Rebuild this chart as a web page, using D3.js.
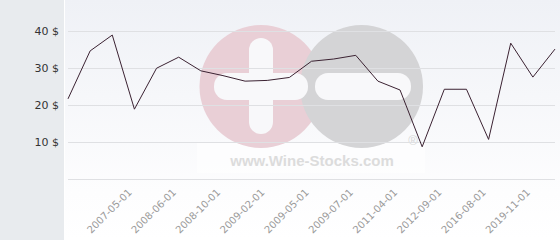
<!DOCTYPE html>
<html>
<head>
<meta charset="utf-8">
<script src="https://cdn.jsdelivr.net/npm/d3@7"></script>
<style>
   body { margin: 0; background: #fff; }
   svg { display: block; font-family: "DejaVu Sans", sans-serif; }
</style>
</head>
<body>
<svg id="chart" width="560" height="240"></svg>
<script>
// prices per point, left to right
let prices = [21.6, 34.6, 38.9, 18.8, 29.9, 32.9, 29.2, 27.9, 26.4, 26.6, 27.4, 31.8,
              32.4, 33.4, 26.4, 24.0, 8.6, 24.2, 24.2, 10.6, 36.7, 27.5, 35.1];
// date labels shown on the axis (every other point, starting at the 4th)
let dateLabels = ['2007-05-01', '2008-06-01', '2008-10-01', '2009-02-01', '2009-05-01',
                  '2009-07-01', '2011-04-01', '2012-09-01', '2016-08-01', '2019-11-01'];
let yTicks = [0, 10, 20, 30, 40];

window.onload = function() {
   drawChart();
}

function drawChart() {
   let width = 560;
   let height = 240;
   let panel = 64;
   let margin = {top: 0, right: 5, bottom: 62, left: 68};

   let svg = d3.select("svg#chart");

   // background gradient of the plot area
   let grad = svg.append("defs").append("linearGradient")
      .attr("id", "bg")
      .attr("x1", 0).attr("y1", 0).attr("x2", 0).attr("y2", 1);
   grad.append("stop").attr("offset", "0%").attr("stop-color", "#eff1f6");
   grad.append("stop").attr("offset", "80%").attr("stop-color", "#fdfdfe");
   grad.append("stop").attr("offset", "100%").attr("stop-color", "#ffffff");

   svg.append("rect")
      .attr("x", 0).attr("y", 0)
      .attr("width", panel).attr("height", height)
      .attr("fill", "#e8ebee");
   svg.append("rect")
      .attr("x", panel + 1).attr("y", 0)
      .attr("width", width - panel - 1).attr("height", height)
      .attr("fill", "url(#bg)");

   let x = d3.scalePoint()
      .domain(d3.range(prices.length))
      .range([margin.left, width - margin.right]);
   let y = d3.scaleLinear()
      .domain([0, 40])
      .range([178.5, 31]);

   drawWatermark(svg);

   // grid lines
   svg.append("g")
      .selectAll("line")
      .data(yTicks)
      .join("line")
         .attr("x1", margin.left)
         .attr("x2", width - margin.right)
         .attr("y1", d => Math.round(y(d)) + 0.5)
         .attr("y2", d => Math.round(y(d)) + 0.5)
         .attr("stroke", "#dfe0e3")
         .attr("stroke-width", 1);

   // left axis labels
   svg.append("g")
      .selectAll("text")
      .data(yTicks.filter(d => d > 0))
      .join("text")
         .attr("x", 59)
         .attr("y", d => y(d) + 4)
         .attr("text-anchor", "end")
         .attr("font-size", "11px")
         .attr("fill", "#333")
         .text(d => d + " $");

   // bottom axis labels
   let labelIndex = dateLabels.map((d, i) => 3 + 2 * i);
   svg.append("g")
      .selectAll("text")
      .data(dateLabels)
      .join("text")
         .attr("transform", (d, i) => "translate(" + (x(labelIndex[i]) - 2) + "," + 193 + ") rotate(-45)")
         .attr("text-anchor", "end")
         .attr("font-size", "10px")
         .attr("fill", "#9a9a9a")
         .text(d => d);

   // price line
   let line = d3.line()
      .x((d, i) => x(i))
      .y(d => y(d));
   svg.append("path")
      .datum(prices)
      .attr("d", line)
      .attr("fill", "none")
      .attr("stroke", "#3b2232")
      .attr("stroke-width", 1);
}

function drawWatermark(svg) {
   let g = svg.append("g");
   g.append("rect")
      .attr("x", 197).attr("y", 143)
      .attr("width", 228).attr("height", 30)
      .attr("fill", "#ffffff").attr("opacity", 0.6);
   g.append("circle")
      .attr("cx", 261).attr("cy", 86.5).attr("r", 61.5)
      .attr("fill", "#e9cfd6");
   g.append("circle")
      .attr("cx", 361.5).attr("cy", 86.5).attr("r", 61.5)
      .attr("fill", "#d4d4d6");
   // plus
   g.append("rect")
      .attr("x", 249).attr("y", 38).attr("width", 24).attr("height", 96)
      .attr("rx", 12).attr("fill", "#f8f8fa");
   g.append("rect")
      .attr("x", 214).attr("y", 73).attr("width", 94).attr("height", 27)
      .attr("rx", 13).attr("fill", "#f8f8fa");
   // minus
   g.append("rect")
      .attr("x", 315).attr("y", 73).attr("width", 96).attr("height", 27)
      .attr("rx", 13).attr("fill", "#f8f8fa");
   g.append("text")
      .attr("x", 312).attr("y", 166)
      .attr("text-anchor", "middle")
      .attr("font-size", "15px")
      .attr("font-weight", "bold")
      .attr("font-family", "Liberation Sans, Arial, sans-serif")
      .attr("fill", "#dcdcdc")
      .text("www.Wine-Stocks.com");
   g.append("text")
      .attr("x", 413).attr("y", 145)
      .attr("text-anchor", "middle")
      .attr("font-size", "13px")
      .attr("font-family", "Liberation Sans, Arial, sans-serif")
      .attr("fill", "#d8d8d8")
      .text("®");
}
</script>
</body>
</html>
